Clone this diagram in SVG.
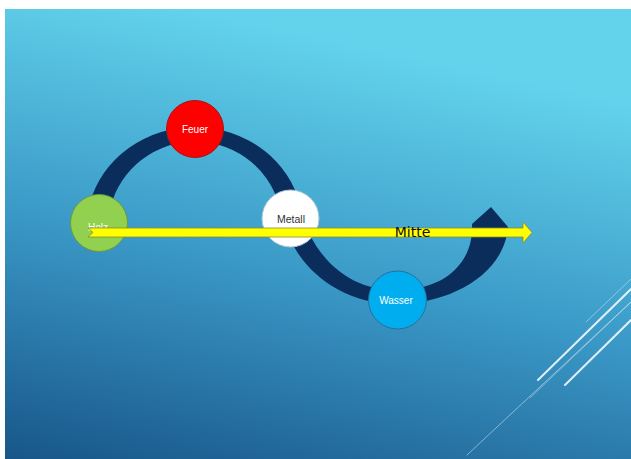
<svg xmlns="http://www.w3.org/2000/svg" width="631" height="459" viewBox="0 0 631 459">
  <defs>
    <linearGradient id="bg" x1="0" y1="1" x2="0.3" y2="0">
      <stop offset="0" stop-color="#185689"/>
      <stop offset="0.5" stop-color="#3A98C6"/>
      <stop offset="1" stop-color="#63D3EC"/>
    </linearGradient>
    <style>
      .lbl { font-family: "Liberation Sans", Arial, sans-serif; font-size: 10px; text-anchor: middle; }
      .node { stroke-width: 1; }
      .deco { stroke: #FFFFFF; fill: none; stroke-linecap: round; }
    </style>
  </defs>

  <rect x="0" y="0" width="631" height="459" fill="#FFFFFF"/>
  <rect x="5" y="9" width="626" height="450" fill="url(#bg)"/>

  <g id="decoration">
    <line class="deco" x1="467" y1="455" x2="631" y2="302" stroke-opacity="0.45" stroke-width="1"/>
    <line class="deco" x1="530" y1="398" x2="631" y2="302" stroke-opacity="0.35" stroke-width="1"/>
    <line class="deco" x1="538" y1="380" x2="631" y2="289" stroke-opacity="0.85" stroke-width="2"/>
    <line class="deco" x1="565" y1="385" x2="631" y2="320" stroke-opacity="0.85" stroke-width="2"/>
    <line class="deco" x1="586" y1="322" x2="631" y2="279" stroke-opacity="0.4" stroke-width="1"/>
  </g>

  <g id="connectors">
    <path d="M 87 220 A 108 100 0 0 1 295 190 L 300 210 C 315 260 350 290 395 290 C 445 291 474 262 472 224 L 491 207 L 508 227 C 504 275 450 304 395 304 C 340 304 292 265 286 222 L 279 205 A 87 86 0 0 0 109 215 Z" fill="#0A2D5C"/>
  </g>

  <g id="node-feuer">
    <circle cx="195" cy="129" r="28.5" fill="#FF0000" stroke="#A01818" class="node"/>
    <text x="195" y="133" class="lbl" fill="#FFFFFF">Feuer</text>
  </g>
  <g id="node-holz">
    <circle cx="99" cy="223" r="28.5" fill="#92D050" stroke="#6A9A3C" class="node"/>
    <text x="98" y="231" class="lbl" fill="#FFFFFF">Holz</text>
  </g>
  <g id="node-metall">
    <circle cx="290.5" cy="218.5" r="28.5" fill="#FFFFFF" stroke="#A8C4D8" class="node"/>
    <text x="291" y="223" class="lbl" fill="#333333" style="font-size:10.5px">Metall</text>
  </g>
  <g id="node-wasser">
    <circle cx="397.5" cy="300" r="29" fill="#00AEEF" stroke="#2A6E9E" class="node"/>
    <text x="396" y="304" class="lbl" fill="#FFFFFF">Wasser</text>
  </g>

  <g id="mitte">
    <path d="M 88 228 L 523 228 L 523 222 L 532 232.5 L 523 243 L 523 237 L 88 237 L 93 232.5 Z" fill="#FFFF00" stroke="#8C8C2A" stroke-width="0.8"/>
    <text x="412.5" y="237" font-family="DejaVu Sans, sans-serif" font-size="14" text-anchor="middle" fill="#111111">Mitte</text>
  </g>
</svg>
